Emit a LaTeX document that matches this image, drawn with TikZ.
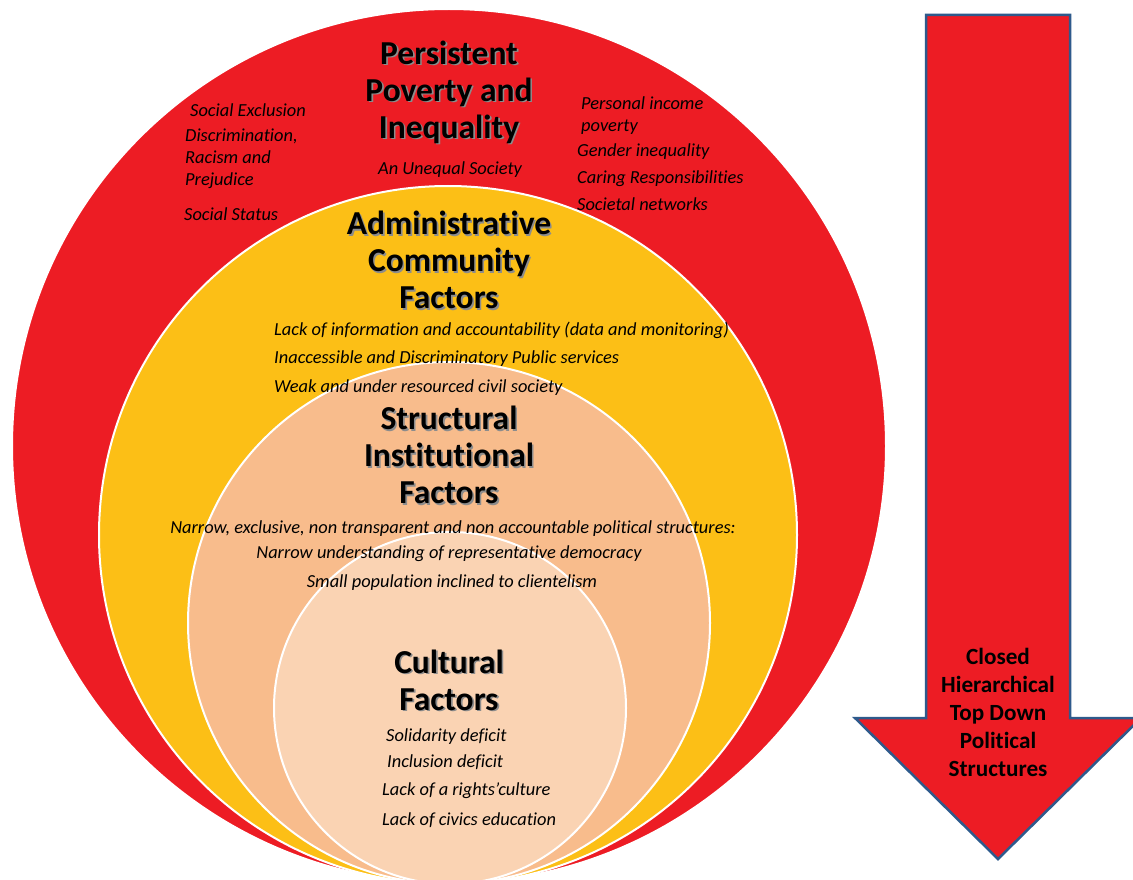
\documentclass[tikz,border=0pt]{standalone}
\usepackage{fontspec}
\setmainfont{Carlito}[Ligatures=CommonOff]
\usetikzlibrary{positioning}
\definecolor{povred}{HTML}{ED1C24}
\definecolor{admyellow}{HTML}{FCBF16}
\definecolor{structpeach}{HTML}{F8BC8C}
\definecolor{cultpeach}{HTML}{FAD3B3}
\definecolor{arrowblue}{HTML}{2E5A8C}
\tikzset{
    ring/.style = {circle, draw=white, line width=2pt, inner sep=0pt},
    heading/.style = {font=\fontsize{33.5}{37}\selectfont\bfseries, align=center, text=black},
    heading-shadow/.style = {heading, text=black!45, xshift=1.6pt, yshift=-1.6pt},
    item/.style = {font=\fontsize{18.4}{22}\selectfont\itshape, align=left, anchor=west, inner sep=0pt},
    item-mid/.style = {item, align=center, anchor=center},
    arrow-text/.style = {font=\fontsize{23.2}{28}\selectfont\bfseries, align=center},
}
\newcommand{\heading}[3]{
    \node[heading-shadow] at #2 {#3};
    \node[heading] (#1) at #2 {#3};
}

\begin{document}
\begin{tikzpicture}[x=1pt, y=-1pt]
\useasboundingbox (0,0) rectangle (1133,880);
\fill[white] (0,0) rectangle (1133,880);

\node[ring, fill=povred, minimum size=874pt] (poverty) at (449,446) {};
\node[ring, fill=admyellow, minimum size=698pt] (admin) at (448,535) {};
\node[ring, fill=structpeach, minimum size=522pt] (structural) at (449,623) {};
\node[ring, fill=cultpeach, minimum size=352pt] (cultural) at (450,708) {};

\heading{poverty-title}{(449,92)}{Persistent\\Poverty and\\Inequality}
\heading{admin-title}{(449,260)}{Administrative\\Community\\Factors}
\heading{structural-title}{(449,455)}{Structural\\Institutional\\Factors}
\heading{cultural-title}{(449,680)}{Cultural\\Factors}

\node[item] (exclusion) at (190,110) {Social Exclusion};
\node[item] (discrimination) at (185,159) {Discrimination,\\Racism and\\Prejudice};
\node[item] (status) at (184,214) {Social Status};
\node[item-mid] (unequal) at (450,170) {An Unequal Society};
\node[item] (income) at (581,116) {Personal income\\poverty};
\node[item] (gender) at (577,152) {Gender inequality};
\node[item] (caring) at (577,179) {Caring Responsibilities};
\node[item] (networks) at (577,204) {Societal networks};

\node[item] (information) at (274,330) {Lack of information and accountability (data and monitoring)};
\node[item] (services) at (274,359) {Inaccessible and Discriminatory Public services};
\node[item] (civil) at (274,388) {Weak and under resourced civil society};

\node[item-mid] (narrow) at (453,529) {Narrow, exclusive, non transparent and non accountable political structures:};
\node[item-mid] (democracy) at (449,554) {Narrow understanding of representative democracy};
\node[item-mid] (clientelism) at (452,583) {Small population inclined to clientelism};

\node[item] (solidarity) at (386,737) {Solidarity deficit};
\node[item] (inclusion) at (387,762) {Inclusion deficit};
\node[item] (rights) at (382,791) {Lack of a rights'culture};
\node[item] (civics) at (382,820) {Lack of civics education};

\draw[arrowblue, line width=2.5pt, fill=povred, line join=miter]
    (926,15) -- (1070,15) -- (1070,718) -- (1141,718) -- (998,859) -- (855,718) -- (926,718) -- cycle;
\node[arrow-text] (closed) at (998,712) {Closed\\Hierarchical\\Top Down\\Political\\Structures};
\end{tikzpicture}
\end{document}
